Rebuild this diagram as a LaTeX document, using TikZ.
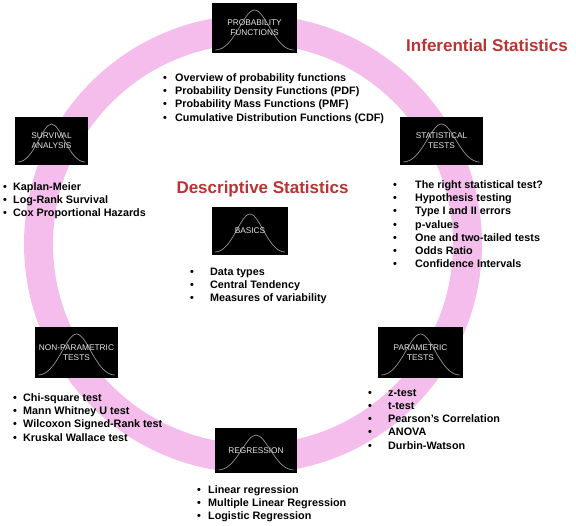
\documentclass[tikz,border=0pt]{standalone}
\usepackage{fontspec}
\setmainfont{Liberation Sans}
\definecolor{ringpink}{RGB}{245,189,235}
\definecolor{headred}{RGB}{185,52,52}
\definecolor{boxtext}{RGB}{230,230,230}
\definecolor{bellgray}{RGB}{150,150,150}
\newcommand\bi[1]{\makebox[#1pt][l]{•}}
\newcommand\bellcurve[3]{%
  \begin{scope}[shift={(#1.center)}]
    \draw[bellc] ({-0.46*#2},{#3/2-3})
      .. controls ({-0.24*#2},{#3/2-3}) and ({-0.13*#2},{-#3/2+7}) .. (0,{-#3/2+7})
      .. controls ({0.13*#2},{-#3/2+7}) and ({0.24*#2},{#3/2-3}) .. ({0.46*#2},{#3/2-3});
  \end{scope}}
\begin{document}
\begin{tikzpicture}[x=1pt,y=-1pt,
  ring/.style={draw=ringpink, line width=29pt},
  bellbox/.style 2 args={fill=black, minimum width=#1pt, minimum height=#2pt, inner sep=0pt},
  bellc/.style={draw=bellgray, line width=0.7pt},
  boxlabel/.style={inner sep=0pt, text=boxtext, align=center,
    font=\fontsize{8.3}{10}\selectfont},
  blist/.style={anchor=north west, inner sep=0pt, align=left,
    font=\bfseries\fontsize{10.8}{13.2}\selectfont},
  head/.style={inner sep=0pt, text=headred, font=\bfseries\fontsize{17}{19}\selectfont}]
\useasboundingbox[fill=white] (0,0) rectangle (576,526);

\draw[ring] (253,244) circle[radius=214.5pt];

\node[bellbox={85}{50}] (prob) at (254.5,28) {};
\node[bellbox={73}{48}] (surv) at (51.5,141) {};
\node[bellbox={83}{48}] (stat) at (441.5,141) {};
\node[bellbox={76}{48}] (basic) at (250,231) {};
\node[bellbox={83}{51}] (nonp) at (76.5,352.5) {};
\node[bellbox={85}{51}] (par) at (420.5,352.5) {};
\node[bellbox={82}{45}] (reg) at (256,450.5) {};

\bellcurve{prob}{85}{50}
\bellcurve{surv}{73}{48}
\bellcurve{stat}{83}{48}
\bellcurve{basic}{76}{48}
\bellcurve{nonp}{83}{51}
\bellcurve{par}{85}{51}
\bellcurve{reg}{82}{45}

\node[boxlabel] (probt) at (prob.center) {PROBABILITY\\FUNCTIONS};
\node[boxlabel] (survt) at (surv.center) {SURVIVAL\\ANALYSIS};
\node[boxlabel] (statt) at (stat.center) {STATISTICAL\\TESTS};
\node[boxlabel] (basict) at (basic.center) {BASICS};
\node[boxlabel] (nonpt) at (nonp.center) {NON-PARAMETRIC\\TESTS};
\node[boxlabel] (part) at (par.center) {PARAMETRIC\\TESTS};
\node[boxlabel] (regt) at (reg.center) {REGRESSION};

\node[head] (hinf) at (487,45) {Inferential Statistics};
\node[head] (hdes) at (262.5,189) {Descriptive Statistics};

\node[blist] (lprob) at (163,73.5) {\bi{12}Overview of probability functions\\
\bi{12}Probability Density Functions (PDF)\\
\bi{12}Probability Mass Functions (PMF)\\
\bi{12}Cumulative Distribution Functions (CDF)};

\node[blist] (lsurv) at (3,182.5) {\bi{10}Kaplan-Meier\\
\bi{10}Log-Rank Survival\\
\bi{10}Cox Proportional Hazards};

\node[blist] (lstat) at (393,180.5) {\bi{22}The right statistical test?\\
\bi{22}Hypothesis testing\\
\bi{22}Type I and II errors\\
\bi{22}p-values\\
\bi{22}One and two-tailed tests\\
\bi{22}Odds Ratio\\
\bi{22}Confidence Intervals};

\node[blist] (lbasic) at (190,267.5) {\bi{20}Data types\\
\bi{20}Central Tendency\\
\bi{20}Measures of variability};

\node[blist] (lnonp) at (13,393.5) {\bi{10}Chi-square test\\
\bi{10}Mann Whitney U test\\
\bi{10}Wilcoxon Signed-Rank test\\
\bi{10}Kruskal Wallace test};

\node[blist] (lpar) at (368,389) {\bi{20}z-test\\
\bi{20}t-test\\
\bi{20}Pearson’s Correlation\\
\bi{20}ANOVA\\
\bi{20}Durbin-Watson};

\node[blist] (lreg) at (197,485.5) {\bi{11}Linear regression\\
\bi{11}Multiple Linear Regression\\
\bi{11}Logistic Regression};
\end{tikzpicture}
\end{document}
